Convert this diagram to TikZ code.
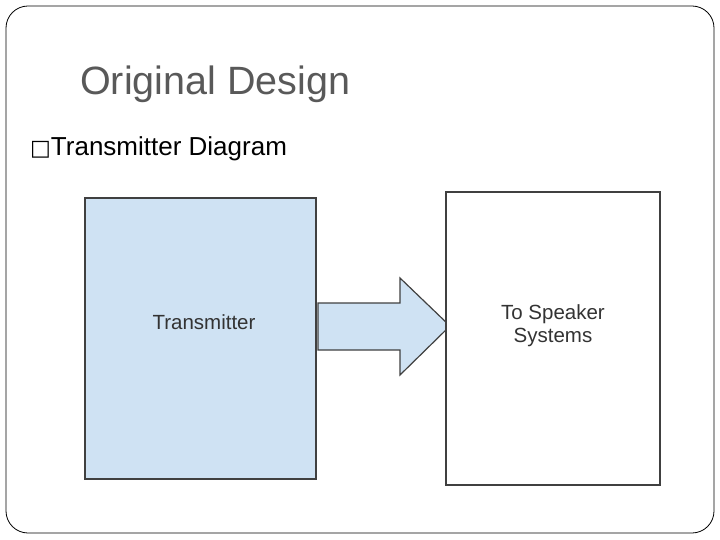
\documentclass[tikz,border=0pt]{standalone}
\usepackage{fontspec}
\setmainfont{Liberation Sans}
\newfontfamily\dejavu{DejaVu Sans}
\definecolor{boxblue}{HTML}{CFE2F3}
\definecolor{titlegray}{HTML}{595959}
\definecolor{edge}{HTML}{404040}
\begin{document}
\begin{tikzpicture}[x=1pt,y=-1pt,
  blk/.style={draw=edge,line width=1.8pt},
  lbl/.style={text=black!80,font=\fontsize{20.5}{23}\selectfont,align=center}]
\useasboundingbox (0,0) rectangle (720,540);
\draw[line width=0.8pt,rounded corners=22pt] (6,6) rectangle (714,533);
\node[anchor=base west,text=titlegray,font=\fontsize{39.5}{44}\selectfont,inner sep=0] (title) at (80,95) {Original Design};
\node[anchor=base west,font=\fontsize{26}{30}\selectfont,inner sep=0] (bullet) at (30,156) {{\dejavu\fontsize{22}{26}\selectfont □}Transmitter Diagram};
\draw[blk,fill=boxblue] (85,198) rectangle (316,479);
\node[lbl] (tx) at (204,322) {Transmitter};
\draw[draw=edge,line width=1.2pt,fill=boxblue] (318,303) -- (400,303) -- (400,278) -- (450,326) -- (400,375) -- (400,350) -- (318,350) -- cycle;
\draw[blk,fill=white] (446,192) rectangle (660,485);
\node[lbl] (rx) at (553,326) {To Speaker\\Systems};
\end{tikzpicture}
\end{document}
